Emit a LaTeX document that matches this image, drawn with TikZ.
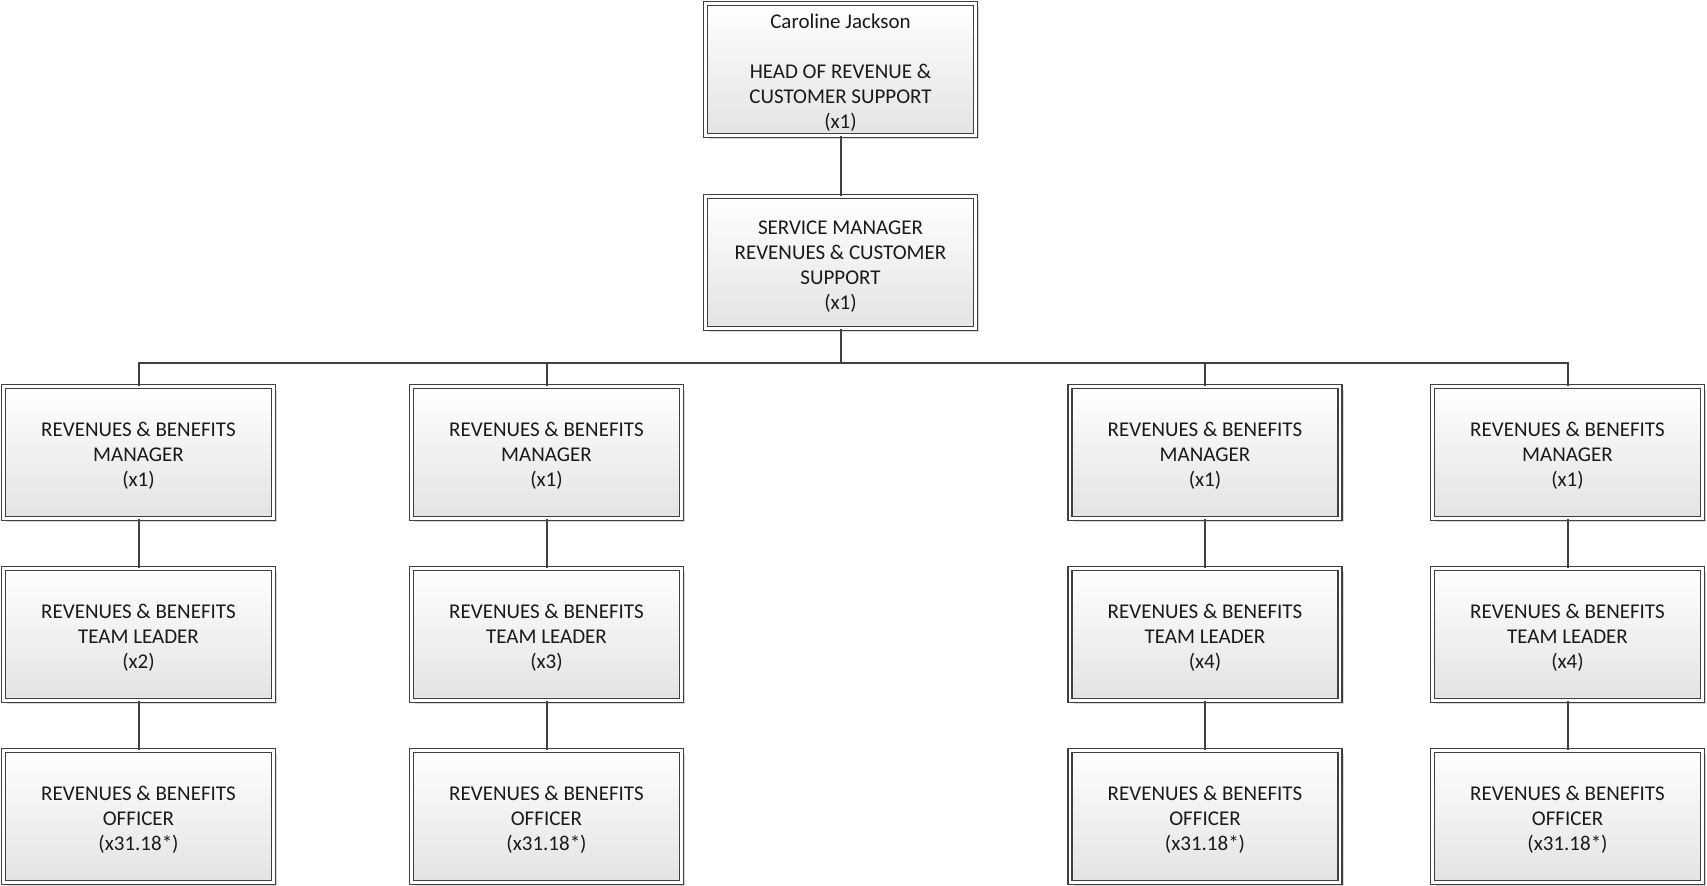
\documentclass[tikz,border=0pt]{standalone}
\usepackage{fontspec}
\setmainfont{Carlito}
\usetikzlibrary{shadows}
\definecolor{edge}{HTML}{404040}
\definecolor{txt}{HTML}{1A1A1A}
\newcommand{\tp}{\rule{0pt}{10.6pt}}
\begin{document}
\begin{tikzpicture}[x=0.5pt,y=-0.5pt,
  box/.style={draw=edge, line width=0.6pt, double=white, double distance=1.4pt,
    top color=white, bottom color=black!11,
    minimum width=135pt, minimum height=66pt, inner sep=0pt,
    align=center, text=txt, font=\fontsize{10.5}{12.5}\selectfont,
    drop shadow={shadow xshift=1.8pt, shadow yshift=-1.8pt, opacity=0.3, fill=black!55}},
  link/.style={draw=edge, line width=1pt}]
\useasboundingbox (0,0) rectangle (1707,886);
\node[box] (head) at (840.5,69.5) {\tp Caroline Jackson\\\strut\\HEAD OF REVENUE \&\\CUSTOMER SUPPORT\\(x1)};
\node[box] (svc) at (840.5,262.5) {\tp SERVICE MANAGER\\REVENUES \& CUSTOMER\\SUPPORT\\(x1)};
\coordinate (bus) at (840.5,363);
\foreach \i/\x/\n in {1/138.5/2, 2/546.5/3, 3/1205/4, 4/1567.5/4} {
  \node[box] (m\i) at (\x,452.5) {\tp REVENUES \& BENEFITS\\MANAGER\\(x1)};
  \node[box] (t\i) at (\x,634.5) {\tp REVENUES \& BENEFITS\\TEAM LEADER\\(x\n)};
  \node[box] (o\i) at (\x,816.5) {\tp REVENUES \& BENEFITS\\OFFICER\\(x31.18*)};
}
\draw[link] (head.south) -- (svc.north);
\foreach \i in {1,2,3,4} {
  \draw[link] (svc.south) -- (bus) -| (m\i.north);
  \draw[link] (m\i.south) -- (t\i.north);
  \draw[link] (t\i.south) -- (o\i.north);
}
\end{tikzpicture}
\end{document}
